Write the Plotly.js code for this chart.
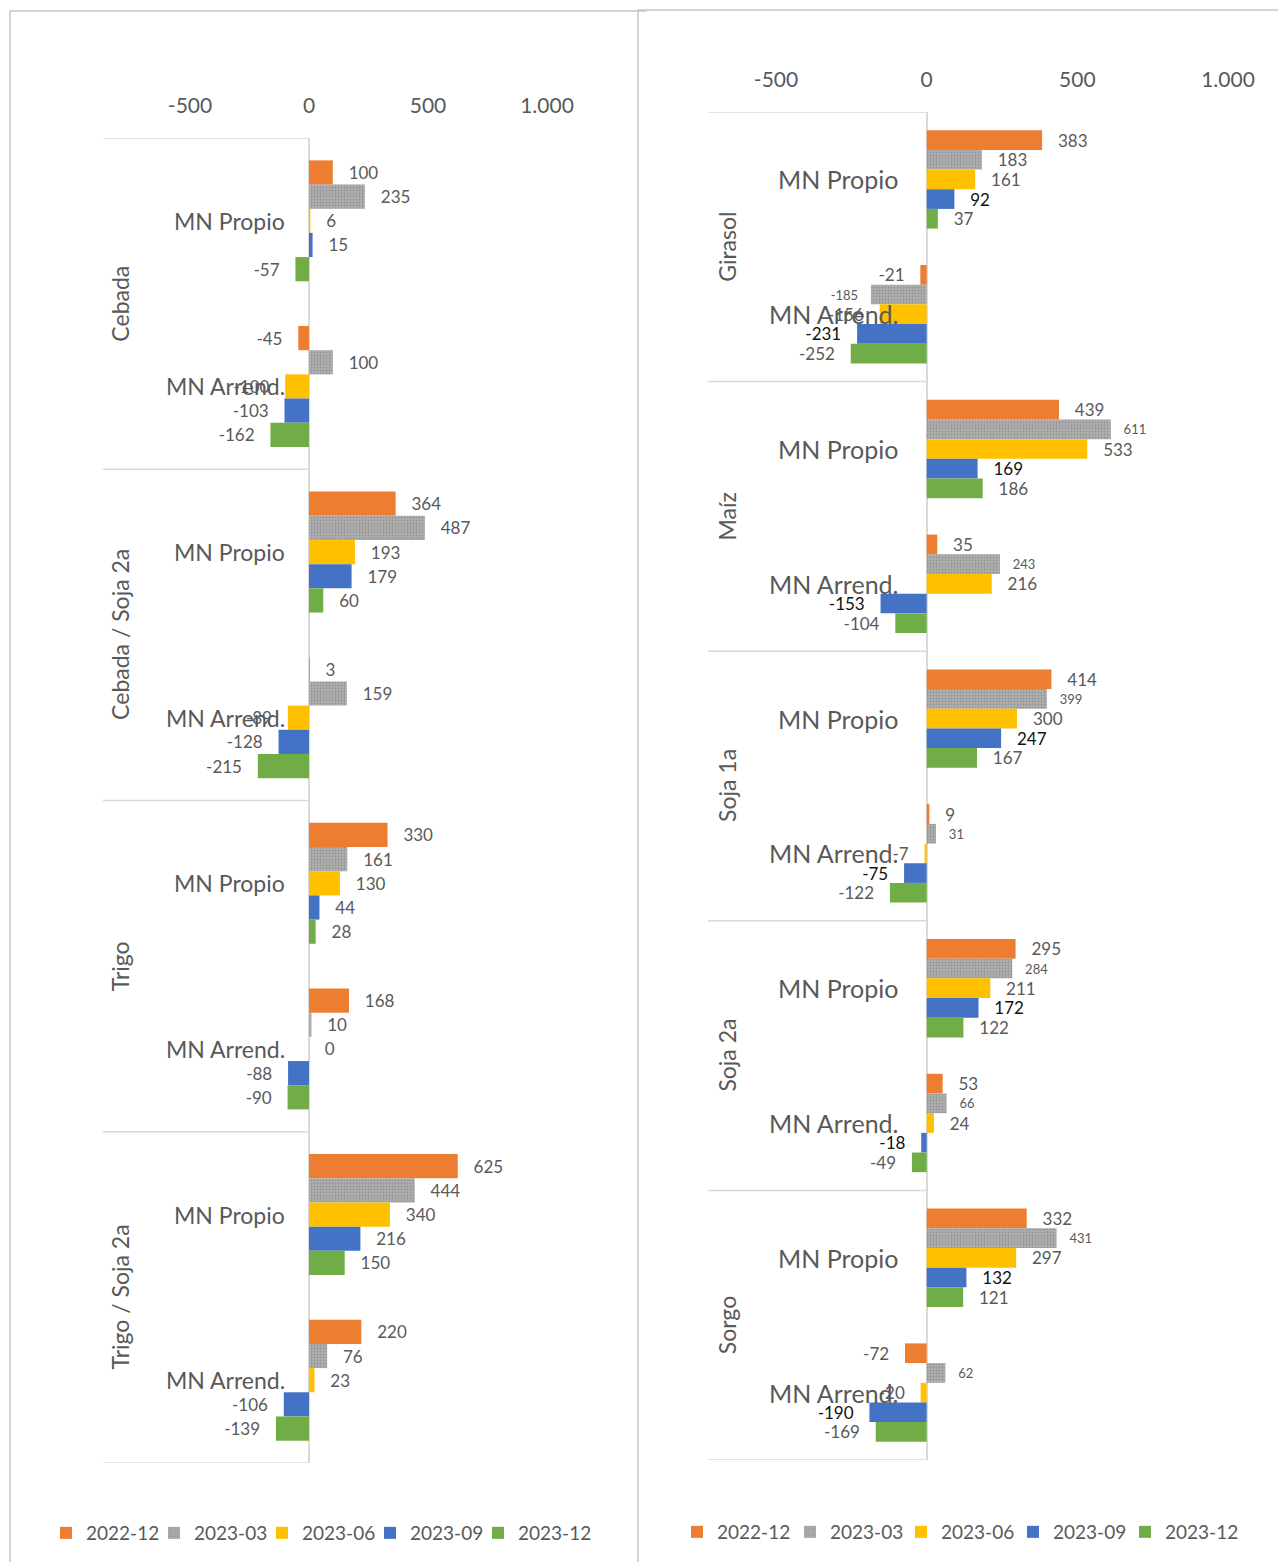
<!DOCTYPE html>
<html>
<head>
<meta charset="utf-8">
<script src="https://cdn.plot.ly/plotly-3.0.1.min.js"></script>
<style>html,body{margin:0;padding:0;background:#fff;}#chart{width:1278px;height:1562px;}</style>
</head>
<body>
<div id="chart"></div>
<script>
// ---------- DATA ----------
const series = ['2022-12', '2023-03', '2023-06', '2023-09', '2023-12'];
const types = ['MN Propio', 'MN Arrend.'];
const leftCrops = ['Cebada', 'Cebada / Soja 2a', 'Trigo', 'Trigo / Soja 2a'];
const rightCrops = ['Girasol', 'Maíz', 'Soja 1a', 'Soja 2a', 'Sorgo'];
const tickVals = [-500, 0, 500, 1000];
const tickText = ['-500', '0', '500', '1.000'];

// order: crop1 Propio, crop1 Arrend., crop2 Propio, ...
const left_2022_12 = [100, -45, 364, 3, 330, 168, 625, 220];
const left_2023_03 = [235, 100, 487, 159, 161, 10, 444, 76];
const left_2023_06 = [6, -100, 193, -89, 130, 0, 340, 23];
const left_2023_09 = [15, -103, 179, -128, 44, -88, 216, -106];
const left_2023_12 = [-57, -162, 60, -215, 28, -90, 150, -139];

const right_2022_12 = [383, -21, 439, 35, 414, 9, 295, 53, 332, -72];
const right_2023_03 = [183, -185, 611, 243, 399, 31, 284, 66, 431, 62];
const right_2023_06 = [161, -156, 533, 216, 300, -7, 211, 24, 297, -20];
const right_2023_09 = [92, -231, 169, -153, 247, -75, 172, -18, 132, -190];
const right_2023_12 = [37, -252, 186, -104, 167, -122, 122, -49, 121, -169];

// ---------- STYLE ----------
const W = 1278, H = 1562;
const px = v => v / W;
const py = v => 1 - v / H;
const FONT = 'Lato, "Open Sans", sans-serif';
const TXT = '#595959';
const colors = ['#ED7D31', '#A5A5A5', '#FFC000', '#4472C4', '#70AD47'];
const PAD = '\u2002\u00a0';
// legend text start positions (px) of each entry
const leftLegendX = [86, 194, 302, 410, 518];
const rightLegendX = [717, 830, 941, 1053, 1165];

function keysFor(crops) {
  const k = [];
  crops.forEach(c => types.forEach(t => k.push(c + ' | ' + t)));
  return k;
}
function labels(vals) {
  return vals.map(v => v < 0 ? ('-' + Math.abs(v) + PAD) : (PAD + v));
}
function marker(i) {
  const m = {color: colors[i], line: {width: 0}};
  if (i === 1) {
    m.pattern = {shape: '.', fgcolor: '#929292', bgcolor: '#b0b0b0', size: 3, solidity: 0.3};
  }
  return m;
}

const leftKeys = keysFor(leftCrops);
const rightKeys = keysFor(rightCrops);
const leftVals = [left_2022_12, left_2023_03, left_2023_06, left_2023_09, left_2023_12];
const rightVals = [right_2022_12, right_2023_03, right_2023_06, right_2023_09, right_2023_12];

const traces = [];
const legends = {};
const legendBase = {
  orientation: 'h', xanchor: 'left', yanchor: 'middle',
  font: {family: FONT, size: 19, color: TXT},
  bgcolor: 'rgba(0,0,0,0)', itemclick: false, itemdoubleclick: false
};
function legendName(n) { return n === 1 ? 'legend' : 'legend' + n; }

series.forEach((s, i) => {
  const lg = legendName(i + 1);
  legends[lg] = Object.assign({}, legendBase, {x: px(leftLegendX[i] - 40), y: py(1533)});
  traces.push({
    type: 'bar', orientation: 'h', name: s,
    x: leftVals[i], y: leftKeys, xaxis: 'x', yaxis: 'y',
    marker: marker(i),
    text: labels(leftVals[i]), textposition: 'outside', cliponaxis: false,
    constraintext: 'none',
    textfont: {family: FONT, size: 17, color: TXT},
    legend: lg, hoverinfo: 'x'
  });
});
series.forEach((s, i) => {
  const lg = legendName(i + 6);
  legends[lg] = Object.assign({}, legendBase, {x: px(rightLegendX[i] - 40), y: py(1532)});
  const sizes = rightVals[i].map((v, j) => (i === 1 && j > 0) ? 13 : 17);
  traces.push({
    type: 'bar', orientation: 'h', name: s,
    x: rightVals[i], y: rightKeys, xaxis: 'x2', yaxis: 'y2',
    marker: marker(i),
    text: labels(rightVals[i]), textposition: 'outside', cliponaxis: false,
    constraintext: 'none',
    textfont: {family: FONT, size: sizes, color: i === 3 ? '#111111' : TXT},
    legend: lg, hoverinfo: 'x'
  });
});

// ---------- LAYOUT ----------
function xAxis(d0, d1, anchor) {
  return {
    domain: [px(d0), px(d1)], range: [-500, 1000], anchor: anchor, side: 'top',
    tickvals: tickVals, ticktext: tickText,
    tickfont: {family: FONT, size: 21, color: TXT},
    ticks: 'outside', ticklen: 16, tickcolor: 'rgba(0,0,0,0)',
    showgrid: false, showline: false,
    zeroline: true, zerolinecolor: '#d9d9d9', zerolinewidth: 2,
    fixedrange: true
  };
}
function yAxis(top, bottom, keys, anchor) {
  return {
    domain: [py(bottom), py(top)], type: 'category', categoryorder: 'array', categoryarray: keys,
    range: [keys.length - 0.5, -0.5], anchor: anchor,
    showticklabels: false, showgrid: false, zeroline: false, showline: false, ticks: '',
    fixedrange: true
  };
}

const annotations = [];
const shapes = [];
function addCategoryDecor(crops, yref, xref, outerX, sepX0, sepX1, innerSize, innerShift) {
  crops.forEach((c, ci) => {
    types.forEach((t, ti) => {
      annotations.push({
        xref: xref, yref: yref, x: 0, y: ci * 2 + ti, xanchor: 'right', yanchor: 'middle',
        xshift: innerShift, text: t, showarrow: false,
        font: {family: FONT, size: innerSize, color: TXT}
      });
    });
    annotations.push({
      xref: 'paper', yref: yref, x: px(outerX), y: ci * 2 + 0.5, xanchor: 'center', yanchor: 'middle',
      text: c, textangle: -90, showarrow: false,
      font: {family: FONT, size: 23, color: TXT}
    });
  });
  for (let b = 0; b <= crops.length; b++) {
    shapes.push({
      type: 'line', xref: 'paper', yref: yref, x0: px(sepX0), x1: px(sepX1),
      y0: b * 2 - 0.5, y1: b * 2 - 0.5, line: {color: '#d9d9d9', width: 1.5}
    });
  }
}
addCategoryDecor(leftCrops, 'y', 'x', 120, 103, 309, 23, -22);
addCategoryDecor(rightCrops, 'y2', 'x2', 727, 708, 927, 25, -27);

// chart frames
const frame = {color: '#c4c4c4', width: 1.5};
shapes.push({type: 'line', xref: 'paper', yref: 'paper', x0: px(10), x1: px(10), y0: py(11), y1: py(1562), line: frame});
shapes.push({type: 'line', xref: 'paper', yref: 'paper', x0: px(10), x1: px(646), y0: py(11), y1: py(11), line: frame});
shapes.push({type: 'line', xref: 'paper', yref: 'paper', x0: px(638), x1: px(638), y0: py(10), y1: py(1562), line: frame});
shapes.push({type: 'line', xref: 'paper', yref: 'paper', x0: px(638), x1: px(1278), y0: py(10), y1: py(10), line: frame});

const layout = Object.assign({
  width: W, height: H,
  margin: {l: 0, r: 0, t: 0, b: 0},
  paper_bgcolor: '#ffffff', plot_bgcolor: 'rgba(0,0,0,0)',
  font: {family: FONT, color: TXT},
  barmode: 'group', bargap: 0.27, bargroupgap: 0,
  xaxis: xAxis(190, 547, 'y'),
  yaxis: yAxis(138, 1463, leftKeys, 'x'),
  xaxis2: xAxis(776, 1228, 'y2'),
  yaxis2: yAxis(112, 1460, rightKeys, 'x2'),
  annotations: annotations,
  shapes: shapes,
  showlegend: true
}, legends);

Plotly.newPlot('chart', traces, layout, {displayModeBar: false, staticPlot: true});
</script>
</body>
</html>
